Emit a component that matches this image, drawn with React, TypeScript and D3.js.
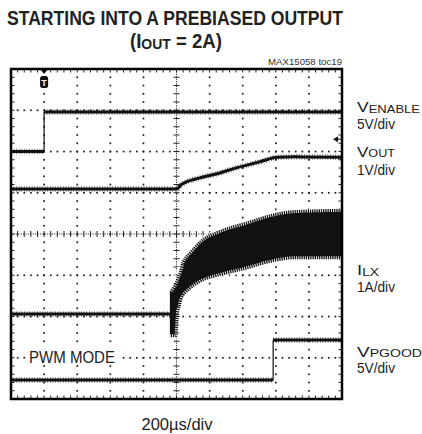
import React from "react";
import * as d3 from "d3";

// ---- data (time in divisions 0..10, level in divisions -4..4 from center) ----
const enableT = [0, 1.0, 1.0, 10];
const enableV = [2.0, 2.0, 2.96, 2.96];

const voutT = [0, 5.0, 5.15, 5.71, 6.31, 6.71, 7.52, 8.04, 8.6, 10];
const voutV = [1.09, 1.09, 1.2, 1.36, 1.48, 1.58, 1.75, 1.86, 1.87, 1.86];

const ilxLowT = [0, 4.8];
const ilxLowV = [-1.94, -1.94];

const ilxBandT = [4.8, 5.0, 5.02, 5.08, 5.14, 5.17, 5.41, 5.71, 6.31, 7.07, 7.82, 8.58, 10];
const ilxUpper = [-1.36, -1.07, -1.02, -0.9, -0.7, -0.65, -0.41, -0.15, 0.1, 0.29, 0.48, 0.58, 0.61];
const ilxLower = [-2.5, -2.5, -2.5, -1.89, -1.72, -1.6, -1.36, -1.19, -1.02, -0.87, -0.7, -0.61, -0.61];

const pgoodT = [0, 7.92, 7.92, 10];
const pgoodV = [-3.54, -3.54, -2.57, -2.57];

const xDivs = [0, 1, 2, 3, 4, 5, 6, 7, 8, 9, 10];
const yDivs = [-4, -3, -2, -1, 0, 1, 2, 3, 4];

const titleText = "STARTING INTO A PREBIASED OUTPUT";
const noteText = "MAX15058 toc19";
const timeLabel = "200µs/div";
const modeLabel = "PWM MODE";

const W = 422;
const H = 434;
const x = d3.scaleLinear().domain([0, 10]).range([11, 342]);
const y = d3.scaleLinear().domain([-4, 4]).range([399, 69]);

const FONT = "'Liberation Sans', Arial, Helvetica, sans-serif";
const INK = "#111";

type Pt = [number, number];
const zip = (t: number[], v: number[]): Pt[] => t.map((d, i) => [d, v[i]]);

function Trace({ t, v }: { t: number[]; v: number[] }) {
  const pts = zip(t, v);
  const segs: Pt[][] = [];
  const edges: [Pt, Pt][] = [];
  let cur: Pt[] = [pts[0]];
  for (let i = 1; i < pts.length; i++) {
    if (pts[i][0] === pts[i - 1][0]) {
      segs.push(cur);
      edges.push([pts[i - 1], pts[i]]);
      cur = [pts[i]];
    } else cur.push(pts[i]);
  }
  segs.push(cur);
  const line = d3
    .line<Pt>()
    .x((d) => x(d[0]))
    .y((d) => y(d[1]))
    .curve(d3.curveMonotoneX);
  return (
    <g>
      {edges.map((e, i) => (
        <line
          key={"e" + i}
          x1={x(e[0][0])}
          x2={x(e[1][0])}
          y1={y(e[0][1])}
          y2={y(e[1][1])}
          stroke={INK}
          strokeWidth={1.2}
        />
      ))}
      {segs.map((s, i) => (
        <g key={"s" + i}>
          <path d={line(s) || ""} fill="none" stroke={INK} strokeWidth={3} />
          <path
            d={line(s) || ""}
            fill="none"
            stroke={INK}
            strokeWidth={5.5}
            strokeDasharray="0.7 1.9"
            opacity={0.75}
          />
        </g>
      ))}
    </g>
  );
}

export default function App() {
  const x0 = x(0), x1 = x(10), y0 = y(4), y1 = y(-4);
  const xc = x(5), yc = y(0);
  const minorX = d3.range(0, 10.0001, 0.2);
  const minorY = d3.range(-4, 4.0001, 0.2);

  const band = d3
    .area<number>()
    .x((_, i) => x(ilxBandT[i]))
    .y0((_, i) => y(ilxLower[i]))
    .y1((_, i) => y(ilxUpper[i]))
    .curve(d3.curveMonotoneX);
  const edgeLine = d3
    .line<number>()
    .x((_, i) => x(ilxBandT[i]))
    .y((d) => y(d))
    .curve(d3.curveMonotoneX);

  const dots: JSX.Element[] = [];
  yDivs.forEach((yd) => {
    if (yd === 0 || yd === 4 || yd === -4) return;
    minorX.forEach((xd, i) => {
      dots.push(<rect key={`h${yd}-${i}`} x={x(xd) - 0.8} y={y(yd) - 0.8} width={1.7} height={1.7} fill="#1a1a1a" />);
    });
  });
  xDivs.forEach((xd) => {
    if (xd === 0 || xd === 5 || xd === 10) return;
    minorY.forEach((yd, i) => {
      dots.push(<rect key={`v${xd}-${i}`} x={x(xd) - 0.8} y={y(yd) - 0.8} width={1.7} height={1.7} fill="#1a1a1a" />);
    });
  });

  return (
    <svg
      width={W}
      height={H}
      viewBox={`0 0 ${W} ${H}`}
      style={{ position: "absolute", left: 0, top: 0, background: "#fff" }}
      fontFamily={FONT}
    >
      <rect x={0} y={0} width={W} height={H} fill="#fff" />

      {/* title */}
      <text x={175} y={25} textAnchor="middle" fontWeight="bold" fontSize={20} fill="#222"
        textLength={336} lengthAdjust="spacingAndGlyphs">{titleText}</text>
      <text x={176} y={48} textAnchor="middle" fontWeight="bold" fontSize={20} fill="#222"
        textLength={92} lengthAdjust="spacingAndGlyphs">
        (I<tspan fontSize={15} dy={1}>OUT</tspan><tspan dy={-1}> = 2A)</tspan>
      </text>
      <text x={342} y={65} textAnchor="end" fontSize={9} fill="#333"
        textLength={74} lengthAdjust="spacingAndGlyphs">{noteText}</text>

      {/* grid */}
      <g>{dots}</g>
      <line x1={x0} x2={x1} y1={yc} y2={yc} stroke="#333" strokeWidth={1} strokeDasharray="1.2 1.2" />
      <line x1={xc} x2={xc} y1={y0} y2={y1} stroke="#333" strokeWidth={1} strokeDasharray="1.2 1.2" />
      {minorX.map((xd, i) => (
        <line key={"cx" + i} x1={x(xd)} x2={x(xd)} y1={yc - 3} y2={yc + 3} stroke="#222" strokeWidth={1} />
      ))}
      {minorY.map((yd, i) => (
        <line key={"cy" + i} x1={xc - 3} x2={xc + 3} y1={y(yd)} y2={y(yd)} stroke="#222" strokeWidth={1} />
      ))}
      {minorX.map((xd, i) => (
        <g key={"bx" + i}>
          <line x1={x(xd)} x2={x(xd)} y1={y0} y2={y0 + 3.5} stroke="#222" strokeWidth={1} />
          <line x1={x(xd)} x2={x(xd)} y1={y1} y2={y1 - 3.5} stroke="#222" strokeWidth={1} />
        </g>
      ))}
      {minorY.map((yd, i) => (
        <g key={"by" + i}>
          <line x1={x0} x2={x0 + 3.5} y1={y(yd)} y2={y(yd)} stroke="#222" strokeWidth={1} />
          <line x1={x1} x2={x1 - 3.5} y1={y(yd)} y2={y(yd)} stroke="#222" strokeWidth={1} />
        </g>
      ))}

      {/* PWM MODE label with white background */}
      <rect x={27} y={348} width={91} height={17} fill="#fff" />
      <text x={29} y={362.5} fontSize={16.5} fill="#222" textLength={86} lengthAdjust="spacingAndGlyphs">{modeLabel}</text>

      {/* traces */}
      <Trace t={enableT} v={enableV} />
      <Trace t={voutT} v={voutV} />
      <Trace t={ilxLowT} v={ilxLowV} />
      <Trace t={pgoodT} v={pgoodV} />

      {/* ILX switching band */}
      <path d={band(ilxBandT) || ""} fill={INK} />
      <path d={edgeLine(ilxUpper) || ""} fill="none" stroke="#fff" strokeWidth={6} strokeDasharray="0.9 1.3" />
      <path d={edgeLine(ilxLower) || ""} fill="none" stroke="#fff" strokeWidth={6} strokeDasharray="0.9 1.3" />

      {/* trigger marker */}
      <path d={`M${x(1) - 4},${y0} L${x(1) + 4},${y0} L${x(1)},${y0 + 5} Z`} fill={INK} />
      <rect x={x(1) - 4} y={y0 + 7} width={8} height={12} rx={2.5} fill={INK} />
      <text x={x(1)} y={y0 + 16.5} textAnchor="middle" fontSize={9} fontWeight="bold" fill="#fff">T</text>
      {/* ground reference arrow */}
      <path d={`M${x1 - 9},${y(2.3)} L${x1 - 4},${y(2.3) - 3} L${x1 - 4},${y(2.3) + 3} Z`} fill={INK} />
      <line x1={x1 - 5} x2={x1} y1={y(2.3)} y2={y(2.3)} stroke={INK} strokeWidth={1} />

      {/* border */}
      <rect x={x0} y={y0} width={x1 - x0} height={y1 - y0} fill="none" stroke="#000" strokeWidth={2.5} />

      {/* right labels */}
      <text x={357} y={112} fontSize={15.5} fill="#222" textLength={63} lengthAdjust="spacingAndGlyphs">
        V<tspan fontSize={11.5} dy={0.7}>ENABLE</tspan>
      </text>
      <text x={357} y={128.8} fontSize={15.5} fill="#222" textLength={38} lengthAdjust="spacingAndGlyphs">5V/div</text>
      <text x={357} y={156.7} fontSize={15.5} fill="#222" textLength={38} lengthAdjust="spacingAndGlyphs">
        V<tspan fontSize={11.5} dy={0.7}>OUT</tspan>
      </text>
      <text x={357} y={175} fontSize={15.5} fill="#222" textLength={38} lengthAdjust="spacingAndGlyphs">1V/div</text>
      <text x={357} y={275} fontSize={15.5} fill="#222" textLength={22} lengthAdjust="spacingAndGlyphs">
        I<tspan fontSize={11.5} dy={0.7}>LX</tspan>
      </text>
      <text x={357} y={291.7} fontSize={15.5} fill="#222" textLength={38} lengthAdjust="spacingAndGlyphs">1A/div</text>
      <text x={357} y={356.7} fontSize={15.5} fill="#222" textLength={65} lengthAdjust="spacingAndGlyphs">
        V<tspan fontSize={11.5} dy={0.7}>PGOOD</tspan>
      </text>
      <text x={357} y={373.3} fontSize={15.5} fill="#222" textLength={38} lengthAdjust="spacingAndGlyphs">5V/div</text>

      {/* time base */}
      <text x={177} y={429.5} textAnchor="middle" fontSize={16} fill="#222" textLength={71} lengthAdjust="spacingAndGlyphs">{timeLabel}</text>
    </svg>
  );
}
